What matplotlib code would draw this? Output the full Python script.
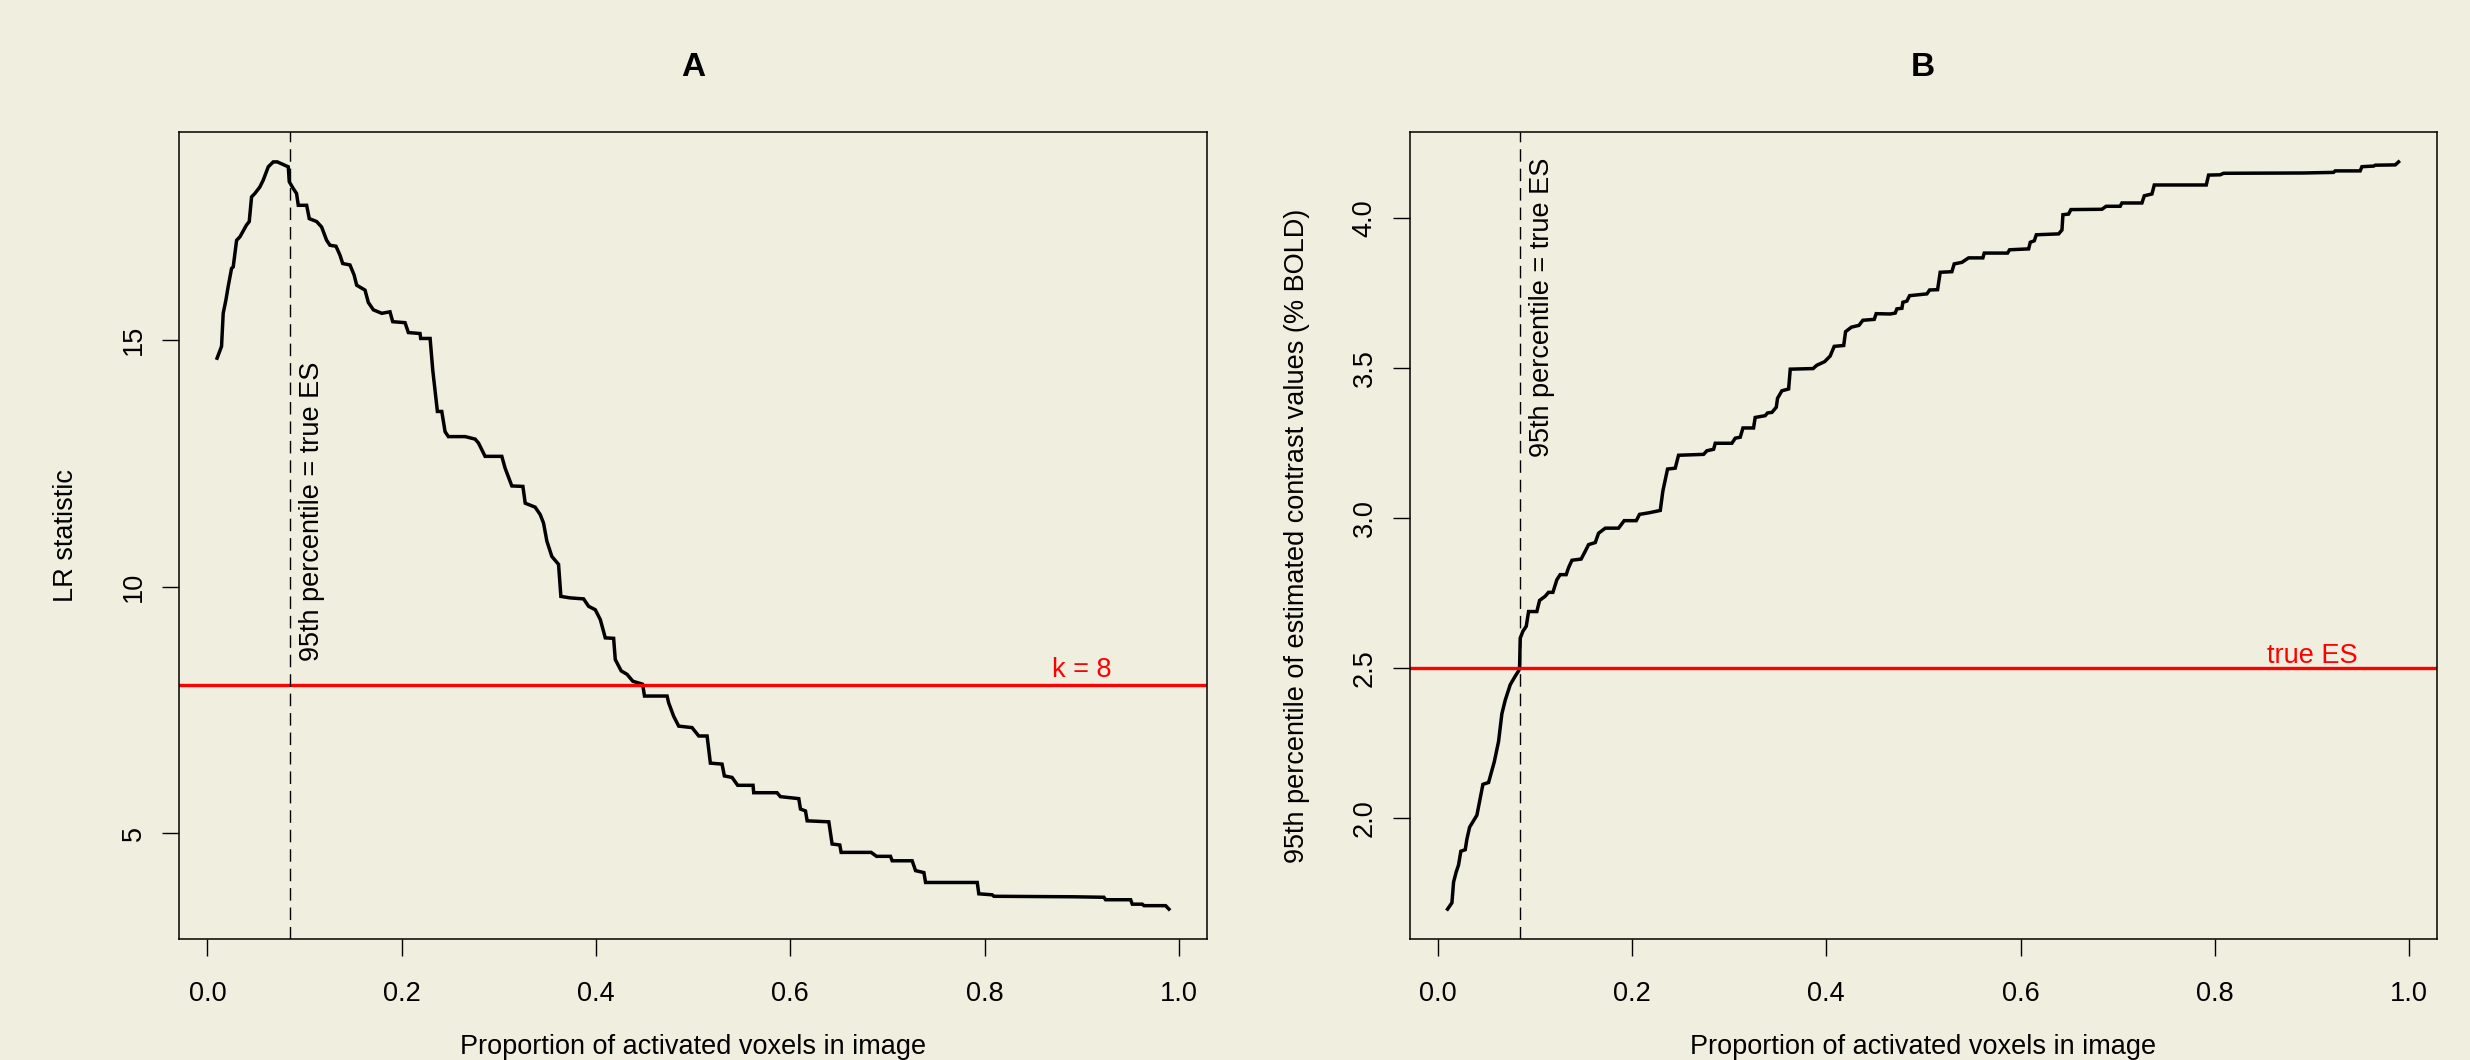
#!/usr/bin/env python3
"""
LR statistic and 95th percentile of contrast values vs proportion of activated voxels
"""
import matplotlib
matplotlib.use("Agg")
import matplotlib.pyplot as plt

# ---- panel A: LR statistic ----
prop_a = [0.010, 0.0146, 0.0163, 0.0191, 0.0214, 0.0249, 0.0266, 0.0301, 0.0335, 0.0403,
          0.0431, 0.0455, 0.0489, 0.0540, 0.0575, 0.0627, 0.0678, 0.0720, 0.0833, 0.0843,
          0.0884, 0.0918, 0.0936, 0.1022, 0.1049, 0.1125, 0.1176, 0.1228, 0.1262, 0.1324,
          0.1365, 0.1393, 0.1468, 0.1510, 0.1537, 0.1623, 0.1657, 0.1709, 0.1795, 0.1880,
          0.1908, 0.2035, 0.2069, 0.2189, 0.2196, 0.2293, 0.2320, 0.2368, 0.2413, 0.2447,
          0.2481, 0.2653, 0.2756, 0.2791, 0.2859, 0.3031, 0.3065, 0.3134, 0.3248, 0.3272,
          0.3374, 0.3426, 0.3460, 0.3495, 0.3546, 0.3615, 0.3639, 0.3735, 0.3873, 0.3924,
          0.3993, 0.4045, 0.4096, 0.4182, 0.4199, 0.4260, 0.4320, 0.4380, 0.4480, 0.4500,
          0.4732, 0.4749, 0.4800, 0.4852, 0.4989, 0.5058, 0.5144, 0.5178, 0.5298, 0.5322,
          0.5401, 0.5459, 0.5617, 0.5624, 0.5864, 0.5899, 0.6088, 0.6105, 0.6157, 0.6174,
          0.6397, 0.6431, 0.6510, 0.6524, 0.6833, 0.6888, 0.7032, 0.7049, 0.7255, 0.7290,
          0.7376, 0.7393, 0.7925, 0.7941, 0.8079, 0.8096, 0.8920, 0.9229, 0.9246, 0.9504,
          0.9521, 0.9624, 0.9641, 0.9864, 0.9898]
lr_stat = [14.63, 14.87, 15.54, 15.81, 16.08, 16.45, 16.48, 17.02, 17.09, 17.33,
           17.40, 17.90, 17.97, 18.10, 18.24, 18.51, 18.61, 18.61, 18.51, 18.21,
           18.07, 17.97, 17.73, 17.73, 17.46, 17.40, 17.29, 17.02, 16.92, 16.90,
           16.72, 16.55, 16.52, 16.32, 16.11, 16.01, 15.76, 15.61, 15.54, 15.57,
           15.37, 15.35, 15.15, 15.13, 15.03, 15.03, 14.39, 13.55, 13.55, 13.14,
           13.04, 13.04, 12.99, 12.91, 12.64, 12.64, 12.40, 12.04, 12.03, 11.69,
           11.61, 11.46, 11.29, 10.92, 10.61, 10.45, 9.80, 9.77, 9.75, 9.60,
           9.53, 9.33, 8.96, 8.95, 8.52, 8.29, 8.22, 8.08, 8.02, 7.78,
           7.78, 7.64, 7.37, 7.17, 7.14, 6.97, 6.97, 6.42, 6.40, 6.16,
           6.13, 5.97, 5.97, 5.82, 5.82, 5.74, 5.70, 5.49, 5.45, 5.25,
           5.23, 4.78, 4.76, 4.61, 4.61, 4.53, 4.53, 4.44, 4.44, 4.24,
           4.20, 4.00, 4.00, 3.77, 3.75, 3.72, 3.71, 3.70, 3.65, 3.65,
           3.56, 3.56, 3.53, 3.53, 3.46]

# ---- panel B: 95th percentile of estimated contrast values ----
prop_b = [0.0103, 0.0148, 0.0165, 0.0192, 0.0216, 0.0240, 0.0285, 0.0302, 0.0330, 0.0405,
          0.0433, 0.0467, 0.0525, 0.0549, 0.0584, 0.0628, 0.0662, 0.0697, 0.0748, 0.0800,
          0.0834, 0.0844, 0.0851, 0.0878, 0.0913, 0.0937, 0.1022, 0.1050, 0.1108, 0.1142,
          0.1187, 0.1228, 0.1262, 0.1324, 0.1348, 0.1383, 0.1478, 0.1520, 0.1554, 0.1623,
          0.1657, 0.1726, 0.1863, 0.1921, 0.2045, 0.2079, 0.2172, 0.2292, 0.2319, 0.2367,
          0.2446, 0.2480, 0.2738, 0.2772, 0.2841, 0.2858, 0.3029, 0.3064, 0.3115, 0.3143,
          0.3252, 0.3269, 0.3372, 0.3396, 0.3441, 0.3486, 0.3499, 0.3544, 0.3613, 0.3630,
          0.3865, 0.3903, 0.3983, 0.4041, 0.4082, 0.4180, 0.4199, 0.4259, 0.4337, 0.4377,
          0.4494, 0.4514, 0.4659, 0.4710, 0.4727, 0.4779, 0.4789, 0.4830, 0.4858, 0.5036,
          0.5064, 0.5146, 0.5173, 0.5293, 0.5317, 0.5396, 0.5465, 0.5612, 0.5626, 0.5866,
          0.5887, 0.6083, 0.6100, 0.6141, 0.6162, 0.6392, 0.6426, 0.6436, 0.6494, 0.6518,
          0.6837, 0.6881, 0.7025, 0.7043, 0.7249, 0.7273, 0.7352, 0.7376, 0.7911, 0.7935,
          0.8055, 0.8089, 0.8912, 0.9221, 0.9238, 0.9495, 0.9513, 0.9633, 0.9650, 0.9856,
          0.9890]
contrast_95 = [1.697, 1.718, 1.787, 1.821, 1.844, 1.890, 1.895, 1.930, 1.970, 2.010,
               2.056, 2.113, 2.119, 2.147, 2.188, 2.256, 2.348, 2.394, 2.445, 2.474,
               2.491, 2.499, 2.600, 2.623, 2.640, 2.689, 2.689, 2.726, 2.740, 2.753,
               2.753, 2.795, 2.812, 2.812, 2.835, 2.860, 2.864, 2.890, 2.912, 2.919,
               2.950, 2.967, 2.967, 2.992, 2.992, 3.013, 3.018, 3.026, 3.091, 3.164,
               3.167, 3.210, 3.213, 3.225, 3.230, 3.250, 3.250, 3.267, 3.270, 3.301,
               3.301, 3.336, 3.342, 3.351, 3.353, 3.370, 3.400, 3.425, 3.431, 3.497,
               3.499, 3.510, 3.522, 3.541, 3.573, 3.576, 3.622, 3.637, 3.643, 3.660,
               3.663, 3.682, 3.681, 3.684, 3.698, 3.700, 3.720, 3.724, 3.742, 3.748,
               3.761, 3.762, 3.820, 3.822, 3.848, 3.853, 3.868, 3.868, 3.884, 3.884,
               3.895, 3.898, 3.920, 3.925, 3.945, 3.948, 3.961, 4.012, 4.014, 4.029,
               4.030, 4.040, 4.040, 4.051, 4.051, 4.075, 4.081, 4.111, 4.111, 4.144,
               4.145, 4.150, 4.151, 4.153, 4.158, 4.158, 4.172, 4.174, 4.177, 4.178,
               4.188]

true_es_prop = 0.085     # 95th percentile = true ES
k_thresh = 8
true_es = 2.5

x_ticks = [0.0, 0.2, 0.4, 0.6, 0.8, 1.0]
y_ticks_a = [5, 10, 15]
y_ticks_b = [2.0, 2.5, 3.0, 3.5, 4.0]

BG = '#F0EEDF'
FS = 19.5

plt.rcParams['font.family'] = ['Liberation Sans', 'DejaVu Sans']
plt.rcParams['font.size'] = FS


def r_limits(vals, frac=0.04):
    """R style axis range: data range padded by 4% on each side"""
    lo, hi = min(vals), max(vals)
    pad = (hi - lo) * frac
    return lo - pad, hi + pad


def style_axes(ax, xs, ys, yticks, yfmt):
    ax.set_facecolor(BG)
    ax.set_xlim(*r_limits(xs))
    ax.set_ylim(*r_limits(ys))
    ax.set_xticks(x_ticks)
    ax.set_xticklabels([f'{t:.1f}' for t in x_ticks])
    ax.set_yticks(yticks)
    ax.set_yticklabels([yfmt.format(t) for t in yticks], rotation=90, va='center')
    ax.tick_params(axis='both', length=12.5, width=1.0, labelsize=FS, direction='out')
    ax.tick_params(axis='x', pad=18)
    ax.tick_params(axis='y', pad=10.5)
    for sp in ax.spines.values():
        sp.set_linewidth(1.1)
    ax.xaxis.set_label_coords(0.5, -0.118)
    ax.yaxis.set_label_coords(-0.097, 0.5)


fig = plt.figure(figsize=(24.7, 10.6), dpi=100, facecolor=BG)
ax_a = fig.add_axes([0.07247, 0.11415, 0.41619, 0.76132])
ax_b = fig.add_axes([0.57065, 0.11415, 0.41583, 0.76132])

# panel A
ax_a.plot(prop_a, lr_stat, color='black', lw=2.5, solid_joinstyle='miter')
ax_a.axhline(k_thresh, color='#FF0000', lw=2.4)
ax_a.axvline(true_es_prop, color='black', lw=1.0, ls=(0, (9, 5)))
ax_a.annotate('k = 8', (0.9, k_thresh), xytext=(0, 6), textcoords='offset points',
              ha='center', va='baseline', color='#FF0000', fontsize=FS)
ax_a.annotate('95th percentile = true ES', (true_es_prop, 8.49), xytext=(6.5, 0),
              textcoords='offset points', rotation=90, ha='left', va='bottom', fontsize=FS)
style_axes(ax_a, prop_a, lr_stat, y_ticks_a, '{:d}')
ax_a.set_title('A', fontweight='bold', fontsize=24, pad=40)
ax_a.set_xlabel('Proportion of activated voxels in image')
ax_a.set_ylabel('LR statistic')

# panel B
ax_b.plot(prop_b, contrast_95, color='black', lw=2.5, solid_joinstyle='miter')
ax_b.axhline(true_es, color='#FF0000', lw=2.4)
ax_b.axvline(true_es_prop, color='black', lw=1.0, ls=(0, (9, 5)))
ax_b.annotate('true ES', (0.9, true_es), xytext=(0, 4), textcoords='offset points',
              ha='center', va='baseline', color='#FF0000', fontsize=FS)
ax_b.annotate('95th percentile = true ES', (true_es_prop, 3.204), xytext=(6.5, 0),
              textcoords='offset points', rotation=90, ha='left', va='bottom', fontsize=FS)
style_axes(ax_b, prop_b, contrast_95, y_ticks_b, '{:.1f}')
ax_b.set_title('B', fontweight='bold', fontsize=24, pad=40)
ax_b.set_xlabel('Proportion of activated voxels in image')
ax_b.set_ylabel('95th percentile of estimated contrast values (% BOLD)')

fig.savefig('out.png', dpi=100, facecolor=BG)
